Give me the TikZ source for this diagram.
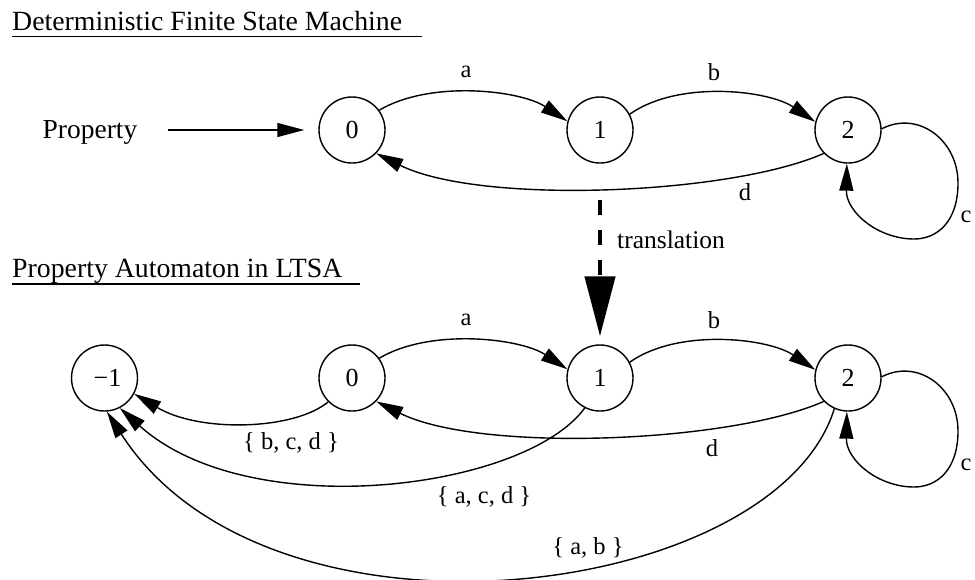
\documentclass[tikz,border=0pt]{standalone}
\usepackage{fontspec}
\setmainfont{Liberation Serif}
\usetikzlibrary{arrows.meta}
\begin{document}
\begin{tikzpicture}[x=1pt,y=-1pt,
  state/.style={circle,draw,line width=1.4pt,minimum size=66pt,inner sep=0pt,font=\fontsize{26}{31}\selectfont},
  edge/.style={line width=1.4pt,-{Triangle[length=27pt,width=14pt]}},
  elabel/.style={font=\fontsize{24.5}{29}\selectfont,inner sep=0pt},
  title/.style={font=\fontsize{27.8}{33}\selectfont,inner sep=0pt,anchor=base west},
  rule/.style={line width=1.5pt},
  transl/.style={line width=4.5pt,dash pattern=on 15pt off 15pt,-{Triangle[length=60pt,width=30pt]},shorten >=8pt}]
\useasboundingbox (0,0) rectangle (975,579);

% titles
\node[title] (title1) at (12,30) {Deterministic Finite State Machine};
\draw[rule] (12,36.5) -- (422,36.5);
\node[title] (title2) at (12,277) {Property Automaton in LTSA};
\draw[rule] (12,284) -- (360,284);

% top machine
\node[font=\fontsize{27.5}{33}\selectfont,inner sep=0pt,anchor=base] (prop) at (90,138) {Property};
\node[state] (t0) at (352,130) {0};
\node[state] (t1) at (600,130) {1};
\node[state] (t2) at (848,130) {2};

\draw[edge,shorten <=30pt,shorten >=14pt] (prop.east |- t0) -- (t0);
\draw[edge] (t0.36) .. controls (430,80) and (520,90) .. (t1.165);
\draw[edge] (t1.28) .. controls (678,80) and (768,90) .. (t2.166);
\draw[edge] (t2.224) .. controls (730,195) and (480,205) .. (t0.316);
\draw[edge] (t2.2) .. controls (918,110) and (958,140) .. (958,183)
   .. controls (958,222) and (937,239) .. (914,239)
   .. controls (878,239) and (846,212) .. (t2.268);

\node[elabel] (la1) at (466,72) {a};
\node[elabel] (lb1) at (714,72) {b};
\node[elabel] (ld1) at (745,192) {d};
\node[elabel] (lc1) at (966,217) {c};

% translation
\coordinate (trs) at (600,200);
\node[state] (b1) at (600,378) {1};
\draw[transl] (trs) -- (b1);
\node[font=\fontsize{25.5}{30}\selectfont,anchor=west,inner sep=0pt] (trlabel) at (617,240) {translation};

% bottom automaton
\node[state] (bm1) at (104.5,378) {\hspace*{6pt}−1};
\node[state] (b0) at (352,378) {0};
\node[state] (b2) at (848,378) {2};

\draw[edge] (b0.36) .. controls (430,328) and (520,338) .. (b1.165);
\draw[edge] (b1.28) .. controls (678,328) and (768,338) .. (b2.166);
\draw[edge] (b2.224) .. controls (730,443) and (480,453) .. (b0.316);
\draw[edge] (b2.2) .. controls (918,358) and (958,388) .. (958,431)
   .. controls (958,470) and (937,487) .. (914,487)
   .. controls (878,487) and (846,460) .. (b2.268);
\draw[edge] (b0.225) .. controls (295,430) and (200,433) .. (bm1.332);
\draw[edge] (b1.243) .. controls (525,490) and (250,525) .. (bm1.297);
\draw[edge] (b2.246) .. controls (775,600) and (270,665) .. (bm1.274);

\node[elabel] (la2) at (466,320) {a};
\node[elabel] (lb2) at (714,320) {b};
\node[elabel] (ld2) at (712,448) {d};
\node[elabel] (lc2) at (966,465) {c};
\node[elabel] (lbcd) at (291,443) {\{ b, c, d \}};
\node[elabel] (lacd) at (484,497) {\{ a, c, d \}};
\node[elabel] (lab) at (588,548) {\{ a, b \}};
\end{tikzpicture}
\end{document}
